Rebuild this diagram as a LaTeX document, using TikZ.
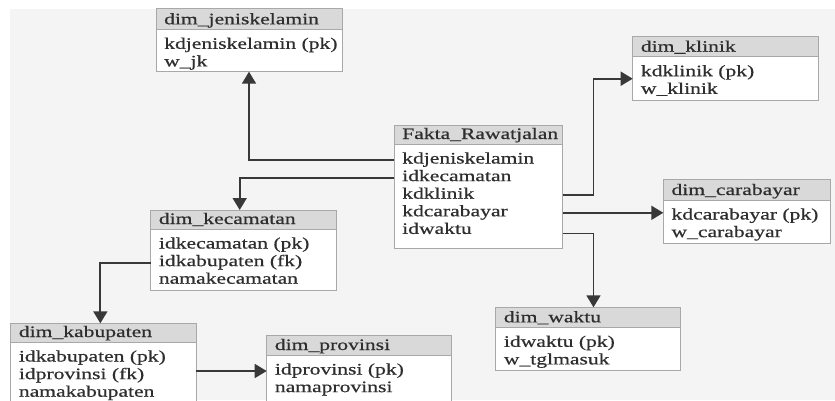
\documentclass[tikz,border=0pt]{standalone}
\usepackage{fontspec}
\setmainfont{Liberation Serif}[FakeStretch=1.35, FakeBold=0.6]
\usetikzlibrary{arrows.meta}
\definecolor{bgc}{HTML}{F4F4F4}
\definecolor{hdrc}{HTML}{D9D9D9}
\definecolor{bordc}{HTML}{A8A8A8}
\definecolor{txtc}{HTML}{2E2E2E}
\definecolor{arrc}{HTML}{383838}
\tikzset{
  hdrbox/.style={draw=bordc, fill=hdrc, line width=0.9pt, inner sep=0pt, outer sep=0pt},
  bodybox/.style={draw=bordc, fill=white, line width=0.9pt, inner sep=0pt, outer sep=0pt},
  hdrtext/.style={inner sep=0pt, text=txtc, font=\fontsize{16}{18}\selectfont},
  rowtext/.style={inner sep=0pt, text=txtc, font=\fontsize{16}{18}\selectfont, text height=11pt, text depth=4pt},
  conn/.style={draw=arrc, line width=1.8pt, -{Triangle[length=12pt,width=14pt]}},
}
\newcommand{\dbtable}[8]{%
  \node[hdrbox, minimum width={(#3-#2)*1pt}, minimum height={(#5-#4)*1pt}, anchor=north west] (#1-h) at (#2,#4) {};
  \node[bodybox, minimum width={(#3-#2)*1pt}, minimum height={(#6-#5)*1pt}, anchor=north west] (#1) at (#2,#5) {};
  \node[hdrtext, anchor=base west] (#1-t) at ({#2+8},{#5-5}) {#7};
  \foreach \r [count=\i] in {#8} {
    \node[rowtext, anchor=base west] (#1-\i) at ({#2+8},{#5+19.5+17.6*(\i-1)}) {\r};
  }
}
\begin{document}
\begin{tikzpicture}[x=1pt, y=-1pt]
\useasboundingbox (0,0) rectangle (835,400);
\fill[white] (0,0) rectangle (835,400);
\fill[bgc] (10,9) rectangle (835,400);
\clip (0,0) rectangle (835,400);

\dbtable{jk}{156}{342}{8.7}{29.3}{71.7}{dim\_jeniskelamin}{kdjeniskelamin (pk), w\_jk}
\dbtable{fakta}{394}{562.5}{125}{144}{248}{Fakta\_Rawatjalan}{kdjeniskelamin, idkecamatan, kdklinik, kdcarabayar, idwaktu}
\dbtable{klinik}{632.7}{818.3}{36.7}{56.7}{100.7}{dim\_klinik}{kdklinik (pk), w\_klinik}
\dbtable{cara}{663.3}{830}{179.3}{200}{243.3}{dim\_carabayar}{kdcarabayar (pk), w\_carabayar}
\dbtable{waktu}{495.7}{680}{307.3}{327.3}{370.7}{dim\_waktu}{idwaktu (pk), w\_tglmasuk}
\dbtable{kec}{150.7}{336.7}{210}{229}{290.7}{dim\_kecamatan}{idkecamatan (pk), idkabupaten (fk), namakecamatan}
\dbtable{kab}{10.7}{196}{323.3}{342}{410}{dim\_kabupaten}{idkabupaten (pk), idprovinsi (fk), namakabupaten}
\dbtable{prov}{266.7}{451.7}{335}{355}{410}{dim\_provinsi}{idprovinsi (pk), namaprovinsi}

% connectors
\draw[conn] (fakta.west |- fakta-1) -| (jk.south);
\draw[conn] (fakta.west |- fakta-2) -| ([xshift=-4pt]kec-h.north);
\draw[conn] (kec.west |- kec-2) -| ([xshift=-3pt]kab-h.north);
\draw[conn, line width=1.5pt] (kab.east |- prov-1) -- (prov.west |- prov-1);
\draw[conn] (fakta.east |- fakta-3) -- ++(31,0) |- (klinik.west);
\draw[conn] (fakta.east |- fakta-4) -- (cara.west |- fakta-4);
\draw[conn] ([yshift=-3pt]fakta.east |- fakta-5) -- ++(31,0) coordinate (wbend) -- (wbend |- waktu-h.north);
\end{tikzpicture}
\end{document}
